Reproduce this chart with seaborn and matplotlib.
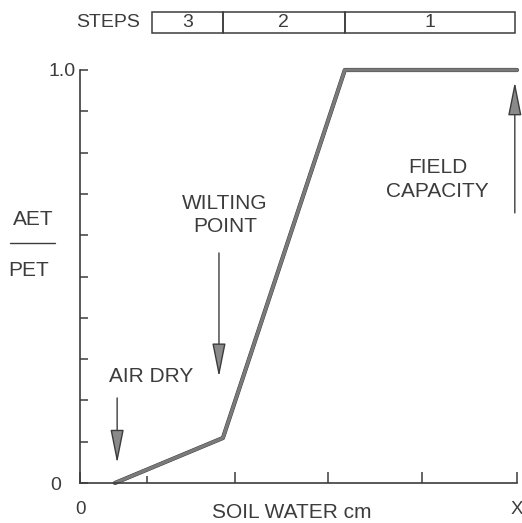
import matplotlib
matplotlib.use("Agg")
import matplotlib.pyplot as plt
import matplotlib.transforms as mtransforms
import matplotlib.patheffects as pe
from matplotlib.lines import Line2D
import seaborn as sns
import pandas as pd

# Soil water (relative scale, 0 .. X) and AET/PET ratio
soil_water = [8.0, 32.7, 60.6, 100.0]
aet_pet = [0.0, 0.109, 1.0, 1.0]

# Step zones along the soil-water axis
step_edges = [16.5, 32.7, 60.6, 99.5]
step_labels = ["3", "2", "1"]

# Marked points on the soil-water axis
x_major_ticks = [0.0, 35.5, 56.8, 78.3, 100.0]
x_tick_labels = ["0", "", "", "", "X"]
x_minor_ticks = [15.3]
y_minor_ticks = [0.1, 0.2, 0.3, 0.4, 0.5, 0.6, 0.7, 0.8, 0.9]

# Annotation arrows: (label, x, y_start, y_end)
air_dry = ("AIR DRY", 8.5, 0.206, 0.048)
wilting = ("WILTING\nPOINT", 31.8, 0.557, 0.257)
field_cap = ("FIELD\nCAPACITY", 99.5, 0.654, 0.971)

sns.set_theme(style="white")
plt.rcParams["font.family"] = ["Liberation Sans", "DejaVu Sans"]
ink = "#3c3c3c"
plt.rcParams["text.color"] = ink

fig = plt.figure(figsize=(5.22, 5.23), dpi=100)
W, H = 522, 523
ax = fig.add_axes([80 / W, (H - 483) / H, (517 - 80) / W, (483 - 70) / H])

df = pd.DataFrame({"soil_water": soil_water, "aet_pet": aet_pet})
sns.lineplot(data=df, x="soil_water", y="aet_pet", ax=ax, color="#7a7a7a",
             linewidth=2.4, clip_on=False, sort=False)
ax.lines[0].set_path_effects([pe.Stroke(linewidth=3.0, foreground="#3a3a3a"),
                              pe.Normal()])

ax.set_xlim(0, 100)
ax.set_ylim(0, 1.0)
ax.set_xlabel("")
ax.set_ylabel("")

for s in ["top", "right"]:
    ax.spines[s].set_visible(False)
for s in ["left", "bottom"]:
    ax.spines[s].set_color(ink)
    ax.spines[s].set_linewidth(1.2)

ax.set_xticks(x_major_ticks)
ax.set_xticklabels(x_tick_labels)
ax.set_xticks(x_minor_ticks, minor=True)
ax.set_yticks([0.0, 1.0])
ax.set_yticklabels(["0", "1.0"])
ax.set_yticks(y_minor_ticks, minor=True)

ax.tick_params(axis="x", which="major", direction="in", length=8, width=1.1,
               color=ink, labelsize=13.5, labelcolor=ink, pad=13)
ax.tick_params(axis="x", which="minor", direction="in", length=5, width=1.1,
               color=ink)
ax.tick_params(axis="y", which="both", direction="in", length=6, width=1.1,
               color=ink, labelsize=14, labelcolor=ink, pad=3, left=True)
ax.tick_params(axis="x", which="both", bottom=True)

# push the "0" on the ratio axis further left
ylabels = ax.get_yticklabels()
ylabels[0].set_transform(ylabels[0].get_transform() +
                         mtransforms.ScaledTranslation(-0.15, 0, fig.dpi_scale_trans))

# step zone boxes above the plot
lefts = step_edges[:-1]
widths = [b - a for a, b in zip(step_edges[:-1], step_edges[1:])]
ax.bar(lefts, [0.05] * len(lefts), width=widths, bottom=1.09, align="edge",
       fill=False, edgecolor=ink, linewidth=1.1, clip_on=False)
for a, w, lab in zip(lefts, widths, step_labels):
    ax.text(a + w / 2, 1.115, lab, ha="center", va="center", fontsize=14,
            clip_on=False)
ax.text(step_edges[0] - 2.8, 1.115, "STEPS", ha="right", va="center",
        fontsize=14, clip_on=False)

arrow_kw = dict(arrowstyle="-|>,head_length=2.1,head_width=0.42",
                mutation_scale=10, color="#8a8a8a", ec=ink, lw=1.0,
                shrinkA=0, shrinkB=0)

ax.annotate("", xy=(air_dry[1], air_dry[3]), xytext=(air_dry[1], air_dry[2]),
            arrowprops=arrow_kw)
ax.text(16.3, 0.257, air_dry[0], ha="center", va="center", fontsize=15)

ax.annotate("", xy=(wilting[1], wilting[3]), xytext=(wilting[1], wilting[2]),
            arrowprops=arrow_kw)
ax.text(33.2, 0.649, wilting[0], ha="center", va="center", fontsize=15,
        linespacing=1.3)

ax.annotate("", xy=(field_cap[1], field_cap[3]), xytext=(field_cap[1], field_cap[2]),
            arrowprops=arrow_kw)
ax.text(81.8, 0.735, field_cap[0], ha="center", va="center", fontsize=15,
        linespacing=1.3)

# axis captions
fig.text(292 / W, 1 - 513 / H, "SOIL WATER cm", ha="center", va="center",
         fontsize=15)
fig.text(33 / W, 1 - 219 / H, "AET", ha="center", va="center", fontsize=15)
fig.text(29 / W, 1 - 270 / H, "PET", ha="center", va="center", fontsize=15)
fig.add_artist(Line2D([10 / W, 55 / W], [1 - 243 / H, 1 - 243 / H],
                      transform=fig.transFigure, color=ink, lw=1.0))

fig.savefig("out.png", dpi=100)
